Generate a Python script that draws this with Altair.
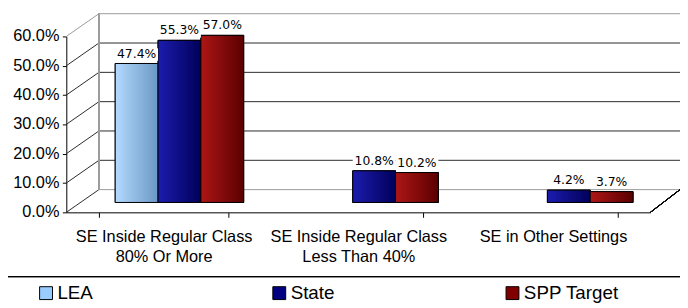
import altair as alt
import pandas as pd

categories = ["SE Inside Regular Class|80% Or More",
              "SE Inside Regular Class|Less Than 40%",
              "SE in Other Settings"]
series = ["LEA", "State", "SPP Target"]
lea = [47.4, None, None]
state = [55.3, 10.8, 4.2]
spp = [57.0, 10.2, 3.7]
colors = ["#99CCFF", "#000080", "#800000"]
gradients = [("#b4daff", "#6b98c4"), ("#1c1cae", "#00005a"), ("#ae1616", "#5a0000")]
y_ticks = [0, 10, 20, 30, 40, 50, 60]

rows = []
for i, c in enumerate(categories):
    for s, vals in zip(series, [lea, state, spp]):
        if vals[i] is not None:
            rows.append({"cat": c, "series": s, "value": vals[i]})
df = pd.DataFrame(rows)
grid_df = pd.DataFrame({"v": y_ticks})

FONT = "Liberation Sans"
DX, DY = 33, -23          # depth offset of the back wall
BX, BY = 16, -10          # bars sit mid-depth
GROUP_W = 130

yscale = alt.Scale(domain=[0, 60], nice=False)
y_axis = alt.Axis(title=None, values=y_ticks, labels=False,
                  domainColor="black", tickColor="black", tickSize=4, grid=False)

x_enc = alt.X("cat:N", sort=categories,
              scale=alt.Scale(paddingInner=0.34, paddingOuter=0.17),
              axis=alt.Axis(title=None, labelAngle=0, labelExpr="split(datum.label, '|')",
                            tickBand="extent", labelFontSize=16.5, labelFont=FONT,
                            labelColor="black", domainColor="black", tickColor="black",
                            labelPadding=12, tickSize=5, grid=False, labelLineHeight=19.5))
xo_enc = alt.XOffset("series:N", sort=series,
                     scale=alt.Scale(domain=series, range=[BX, BX + GROUP_W], paddingInner=0.0))
y_enc = alt.Y("value:Q", scale=yscale, axis=y_axis)

base = alt.Chart(df)

# back wall grid lines
back_grid = alt.Chart(grid_df).mark_rule(strokeWidth=1, yOffset=DY).encode(
    y=alt.Y("v:Q", scale=yscale, axis=y_axis),
    x=alt.value(DX), x2=alt.value(621),
    color=alt.condition((alt.datum.v == 60) | (alt.datum.v == 0),
                        alt.value("#9a9a9a"), alt.value("#2a2a2a")))
# side wall diagonals
diag = alt.Chart(grid_df).mark_rule(strokeWidth=1, y2Offset=DY).encode(
    y=alt.Y("v:Q", scale=yscale, axis=y_axis), y2="v:Q",
    x=alt.value(0), x2=alt.value(DX),
    color=alt.condition(alt.datum.v == 60, alt.value("#9a9a9a"), alt.value("#2a2a2a")))
wall_edge = alt.Chart(grid_df).mark_rule(color="#9a9a9a", strokeWidth=1,
                                          yOffset=DY, y2Offset=DY).encode(
    y=alt.datum(60, scale=yscale, axis=y_axis), y2=alt.datum(0), x=alt.value(DX))
floor_edge = alt.Chart(grid_df).mark_rule(color="black", strokeWidth=1, y2Offset=DY).encode(
    y=alt.datum(0, scale=yscale, axis=y_axis), y2=alt.datum(0), x=alt.value(591), x2=alt.value(621))

# y tick labels
y_labels = alt.Chart(grid_df).transform_calculate(
    lab="format(datum.v, '.1f') + '%'"
).mark_text(align="right", baseline="middle", fontSize=16.5, font=FONT, color="black").encode(
    y=alt.Y("v:Q", scale=yscale, axis=y_axis), x=alt.value(-7), text="lab:N")

bars = base.mark_bar(stroke="black", strokeWidth=1, yOffset=BY, y2Offset=BY).encode(
    x=x_enc, xOffset=xo_enc, y=y_enc,
    color=alt.Color("series:N", sort=series,
                    scale=alt.Scale(domain=series, range=colors),
                    legend=alt.Legend(title=None, orient="none", legendX=-30, legendY=250,
                                      direction="horizontal", gridAlign="all",
                                      columnPadding=118, labelFontSize=19, labelFont=FONT,
                                      labelColor="black", symbolType="square", symbolSize=170,
                                      symbolStrokeColor="black", symbolStrokeWidth=1,
                                      labelOffset=2)))

grad_layers = []
for s, (c1, c2) in zip(series, gradients):
    grad_layers.append(
        base.transform_filter(alt.datum.series == s).mark_bar(
            stroke="black", strokeWidth=1, yOffset=BY, y2Offset=BY,
            color=alt.Gradient(gradient="linear",
                               stops=[alt.GradientStop(color=c1, offset=0),
                                      alt.GradientStop(color=c2, offset=1)],
                               x1=0, x2=1, y1=0, y2=0)
        ).encode(x=x_enc, xOffset=xo_enc, y=y_enc)
    )

label_bg = base.transform_calculate(
    lo="datum.value + 0.9", hi="datum.value + 5.2"
).mark_bar(color="white", yOffset=BY, y2Offset=BY).encode(
    x=x_enc, xOffset=xo_enc, y=alt.Y("lo:Q", scale=yscale, axis=y_axis), y2="hi:Q")

labels = base.transform_calculate(lab="format(datum.value, '.1f') + '%'").mark_text(
    baseline="bottom", dy=-3, fontSize=12.5, font="DejaVu Sans", color="black",
    yOffset=BY).encode(
    x=x_enc, xOffset=xo_enc, y=y_enc, text="lab:N")

sep = alt.Chart(grid_df).mark_rule(color="black", strokeWidth=1).encode(
    x=alt.value(-59), x2=alt.value(621), y=alt.value(243))

chart = alt.layer(back_grid, diag, wall_edge, floor_edge, y_labels, bars, *grad_layers,
                  label_bg, labels, sep).properties(
    width=591, height=178,
    autosize=alt.AutoSizeParams(type="none"),
    padding={"left": 59, "top": 27, "right": 30, "bottom": 94},
).configure_view(stroke=None)

chart.save("out.html", embed_options={"renderer": "svg", "actions": False})
